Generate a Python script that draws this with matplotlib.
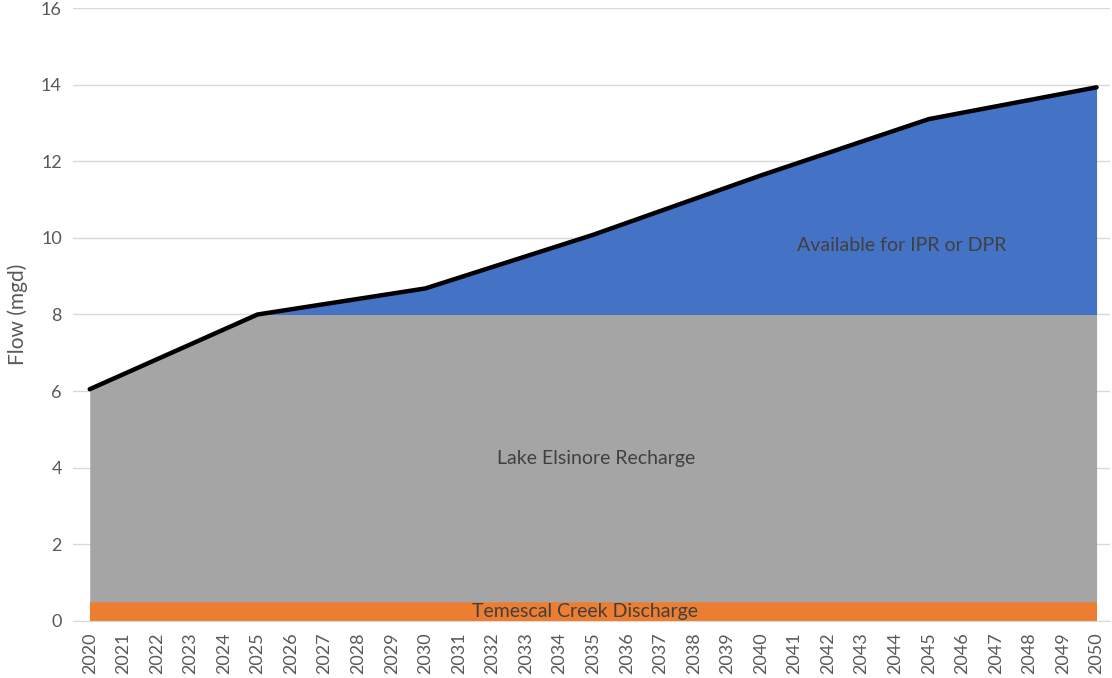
import matplotlib
matplotlib.use("Agg")
import matplotlib.pyplot as plt
import numpy as np

# values (mgd)
key_years = [2020, 2025, 2030, 2035, 2040, 2045, 2050]
total_flow = [6.05, 8.0, 8.68, 10.08, 11.63, 13.1, 13.93]
creek_discharge = 0.5
recharge_cap = 8.0
year_labels = [str(y) for y in range(2020, 2051)]

plt.rcParams["font.family"] = ["Lato", "DejaVu Sans"]
text_color = "#595959"

years = np.array(key_years, dtype=float)
total = np.array(total_flow)
orange_top = np.full_like(total, creek_discharge)
gray_top = np.minimum(total, recharge_cap)

fig = plt.figure(figsize=(11.12, 6.78), dpi=100)
ax = fig.add_axes([0.0656, 0.0841, 0.9326, 0.9041])

ax.fill_between(years, 0, orange_top, color="#ED7D31", linewidth=0)
ax.fill_between(years, orange_top, gray_top, color="#A5A5A5", linewidth=0)
ax.fill_between(years, gray_top, total, color="#4472C4", linewidth=0)
ax.plot(years, total, color="black", linewidth=3.2, solid_capstyle="round")

ax.set_xlim(2019.5, 2050.4)
ax.set_ylim(0, 16)
ax.set_yticks(range(0, 17, 2))
ax.set_xticks(range(2020, 2051))
ax.set_xticklabels(year_labels, rotation=90)
ax.tick_params(axis="both", length=0, labelsize=13, colors=text_color, pad=8)
ax.grid(axis="y", color="#D9D9D9", linewidth=1)
ax.set_axisbelow(True)
for side in ("top", "right", "left"):
    ax.spines[side].set_visible(False)
ax.spines["bottom"].set_color("#D9D9D9")
ax.set_ylabel("Flow (mgd)", fontsize=15, color=text_color, labelpad=9)

ax.text(2044.2, 9.81, "Available for IPR or DPR", ha="center", va="center",
        fontsize=14, color="#404040")
ax.text(2035.1, 4.25, "Lake Elsinore Recharge", ha="center", va="center",
        fontsize=14, color="#404040")
ax.text(2034.75, 0.25, "Temescal Creek Discharge", ha="center", va="center",
        fontsize=14, color="#404040")

fig.savefig("out.png", dpi=100, facecolor="white")
